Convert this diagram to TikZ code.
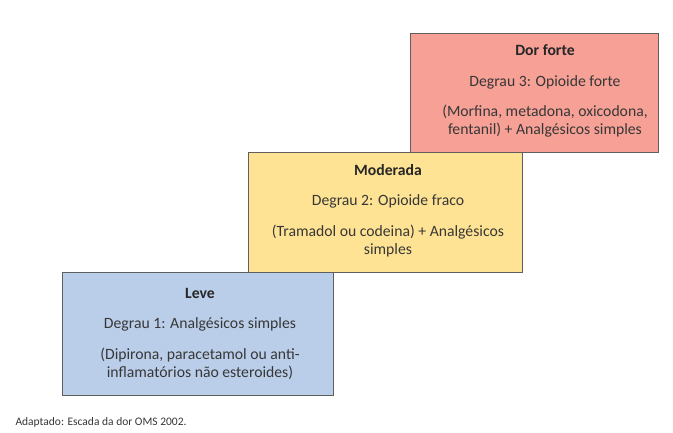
\documentclass[tikz,border=0pt]{standalone}
\usepackage{fontspec}
\setmainfont{Carlito}
\definecolor{fortefill}{RGB}{246,160,150}
\definecolor{moderfill}{RGB}{255,227,148}
\definecolor{levefill}{RGB}{186,206,234}
\definecolor{stepline}{RGB}{95,95,95}
\definecolor{steptext}{RGB}{55,55,55}
\tikzset{
  stepbox/.style={draw=stepline, line width=1.1pt, anchor=north west, inner sep=0pt},
  steptitle/.style={font=\fontsize{15.7}{18.5}\selectfont\bfseries, text=black!85},
  stepline/.style={font=\fontsize{15.7}{18.5}\selectfont, text=steptext, align=center}
}
\begin{document}
\begin{tikzpicture}[x=1pt, y=-1pt]
\useasboundingbox (0,0) rectangle (673,432);
\fill[white] (0,0) rectangle (673,432);
% degraus
\node[stepbox, fill=levefill, minimum width=271pt, minimum height=123pt] (leve) at (62,272) {};
\node[stepbox, fill=moderfill, minimum width=274pt, minimum height=120pt] (moder) at (248,152) {};
\node[stepbox, fill=fortefill, minimum width=248pt, minimum height=119pt] (forte) at (410,33) {};
% degrau 3
\node[steptitle] (forteT) at (545,50) {Dor forte};
\node[stepline] (forteA) at (545,82) {Degrau 3: Opioide forte};
\node[stepline] (forteB) at (545,121) {(Morfina, metadona, oxicodona,\\fentanil) + Analgésicos simples};
% degrau 2
\node[steptitle] (moderT) at (388,170) {Moderada};
\node[stepline] (moderA) at (388,201) {Degrau 2: Opioide fraco};
\node[stepline] (moderB) at (388,241) {(Tramadol ou codeina) + Analgésicos\\simples};
% degrau 1
\node[steptitle] (leveT) at (200,293) {Leve};
\node[stepline] (leveA) at (200,324) {Degrau 1: Analgésicos simples};
\node[stepline] (leveB) at (200,364) {(Dipirona, paracetamol ou anti-\\inflamatórios não esteroides)};
% fonte
\node[anchor=west, font=\fontsize{11.5}{13}\selectfont, text=steptext] (fonte) at (12,422) {Adaptado: Escada da dor OMS 2002.};
\end{tikzpicture}
\end{document}
